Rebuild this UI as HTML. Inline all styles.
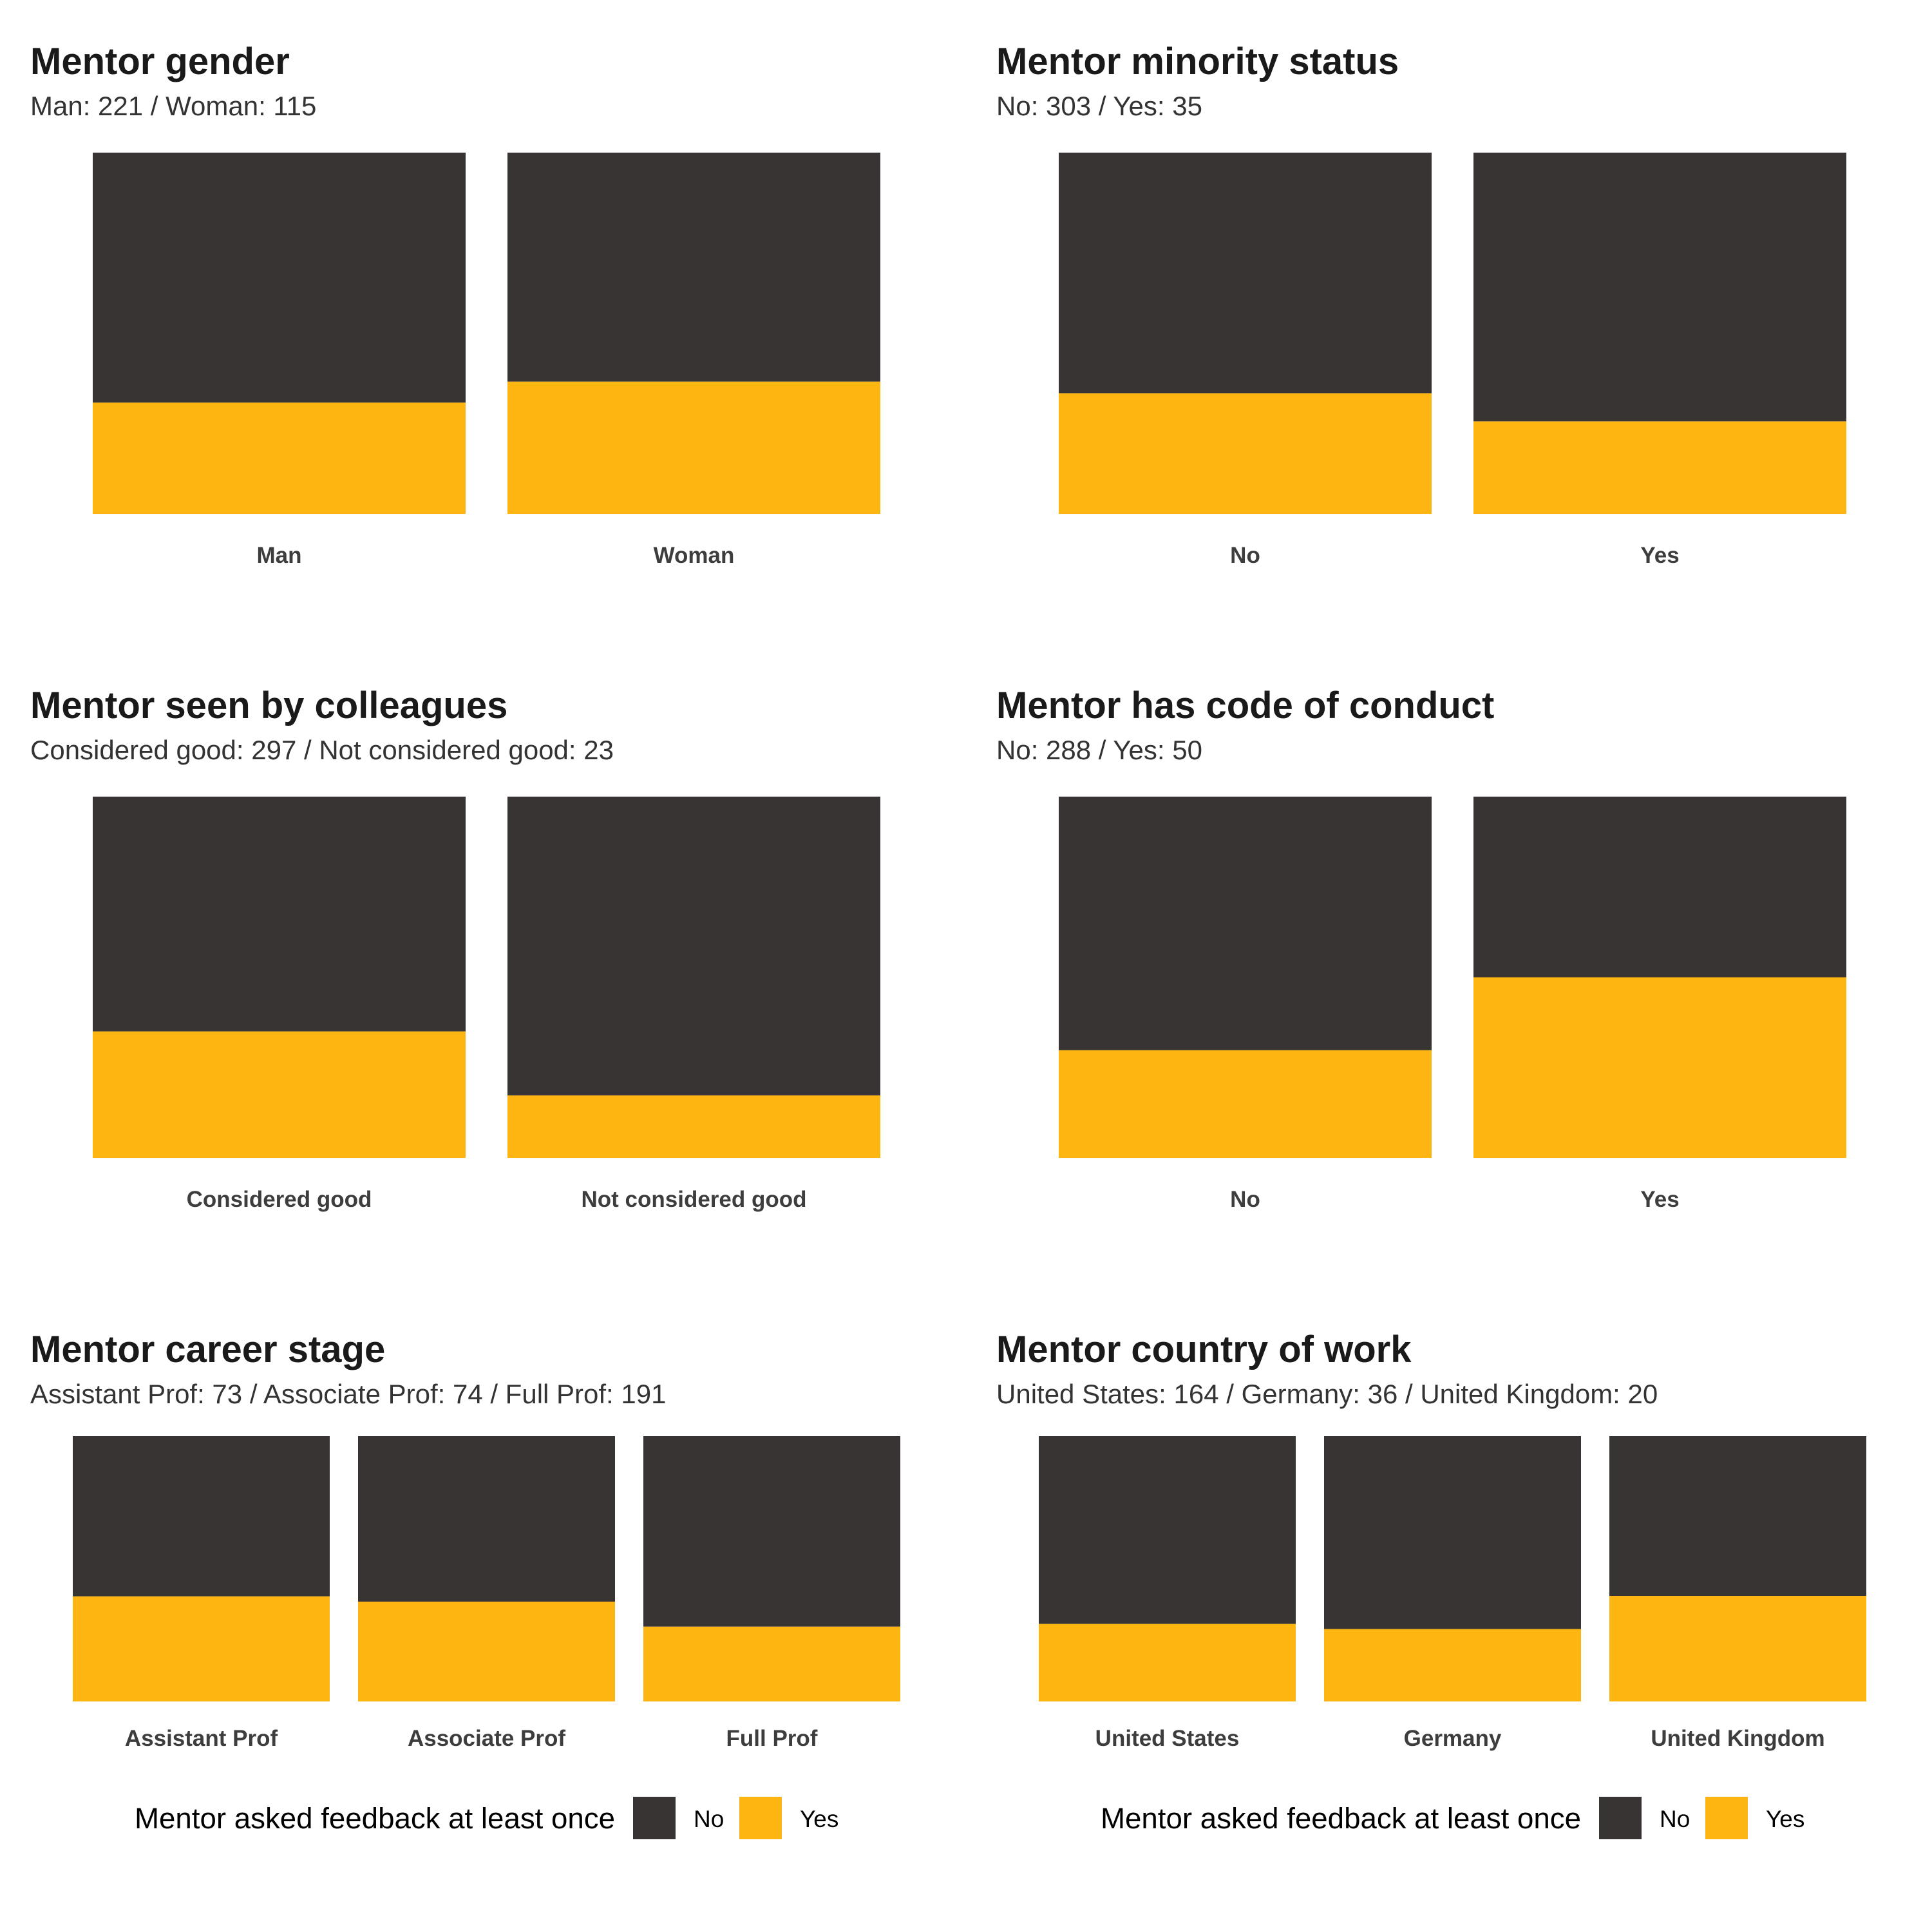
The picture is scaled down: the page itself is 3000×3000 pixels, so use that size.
<!DOCTYPE html>
<html><head><meta charset="utf-8"><style>
html,body{margin:0;padding:0;background:#fff;}
svg{display:block;font-family:"Liberation Sans",Arial,sans-serif;}
</style></head><body>
<svg id="chart" width="3000" height="3000" viewBox="0 0 3000 3000" xmlns="http://www.w3.org/2000/svg">
<rect width="3000" height="3000" fill="#fff"/>
</svg>
<script>
const titles = ["Mentor gender","Mentor minority status","Mentor seen by colleagues","Mentor has code of conduct","Mentor career stage","Mentor country of work"];
const subtitles = ["Man: 221 / Woman: 115","No: 303 / Yes: 35","Considered good: 297 / Not considered good: 23","No: 288 / Yes: 50","Assistant Prof: 73 / Associate Prof: 74 / Full Prof: 191","United States: 164 / Germany: 36 / United Kingdom: 20"];
const categories = [["Man","Woman"],["No","Yes"],["Considered good","Not considered good"],["No","Yes"],["Assistant Prof","Associate Prof","Full Prof"],["United States","Germany","United Kingdom"]];
const yesShare = [[0.308,0.366],[0.334,0.256],[0.350,0.173],[0.298,0.500],[0.396,0.376,0.282],[0.292,0.273,0.398]];
const legendLabels = ["No","Yes"];

const NS = "http://www.w3.org/2000/svg";
const svg = document.getElementById("chart");
const DARK = "#383434", YELLOW = "#FCB511";
function mk(tag, attrs, parent){
  const e = document.createElementNS(NS, tag);
  for (const k in attrs) e.setAttribute(k, attrs[k]);
  (parent||svg).appendChild(e);
  return e;
}
function panelGeom(i){
  const col = i % 2, row = Math.floor(i / 2);
  const ox = col * 1500, oy = row * 1000;
  if (row < 2) return {ox, oy, top: oy + 237, bottom: oy + 798, x0: ox + 144, w: 579, step: 644, lab: oy + 874};
  return {ox, oy: 2000, top: 2230, bottom: 2642, x0: ox + 113, w: 399, step: 443, lab: 2711};
}
titles.forEach((t, i) => {
  const g = panelGeom(i);
  const grp = mk("g", {});
  
  
  const ti = mk("text", {x: g.ox + 47, y: g.oy + 115, "font-size": 58, "font-weight": "bold", fill: "#1a1a1a"}, grp);
  ti.textContent = t;
  
  
  const st = mk("text", {x: g.ox + 47, y: g.oy + 179, "font-size": 42, fill: "#333"}, grp);
  st.textContent = subtitles[i];
  
  
  const h = g.bottom - g.top;
  const yScale = v => g.bottom - v * h;
  categories[i].forEach((c, j) => {
    const x = g.x0 + j * g.step;
    const yy = yScale(yesShare[i][j]);
    const rn = mk("rect", {x: x, y: g.top, width: g.w, height: yy - g.top, fill: DARK}, grp);
    
    
    const ry = mk("rect", {x: x, y: yy, width: g.w, height: g.bottom - yy, fill: YELLOW}, grp);
    
    
    const lt = mk("text", {x: x + g.w / 2, y: g.lab, "font-size": 35, "font-weight": "bold", fill: "#3d3d3d", "text-anchor": "middle"}, grp);
    lt.textContent = c;
    
    
  });
});
[0, 1500].forEach(ox => {
  const lg = mk("g", {});
  
  
  const tt = mk("text", {x: ox + 209, y: 2839, "font-size": 45.5, fill: "#000", textLength: 746, lengthAdjust: "spacingAndGlyphs"}, lg);
  tt.textContent = "Mentor asked feedback at least once";
  
  
  const cols = [DARK, YELLOW];
  legendLabels.forEach((l, k) => {
    const kx = ox + 983 + k * 165;
    const kr = mk("rect", {x: kx, y: 2790, width: 66, height: 66, fill: cols[k]}, lg);
    
    
    const kt = mk("text", {x: kx + 94, y: 2837, "font-size": 37, fill: "#000"}, lg);
    kt.textContent = l;
    
    
  });
});
</script>
</body></html>
